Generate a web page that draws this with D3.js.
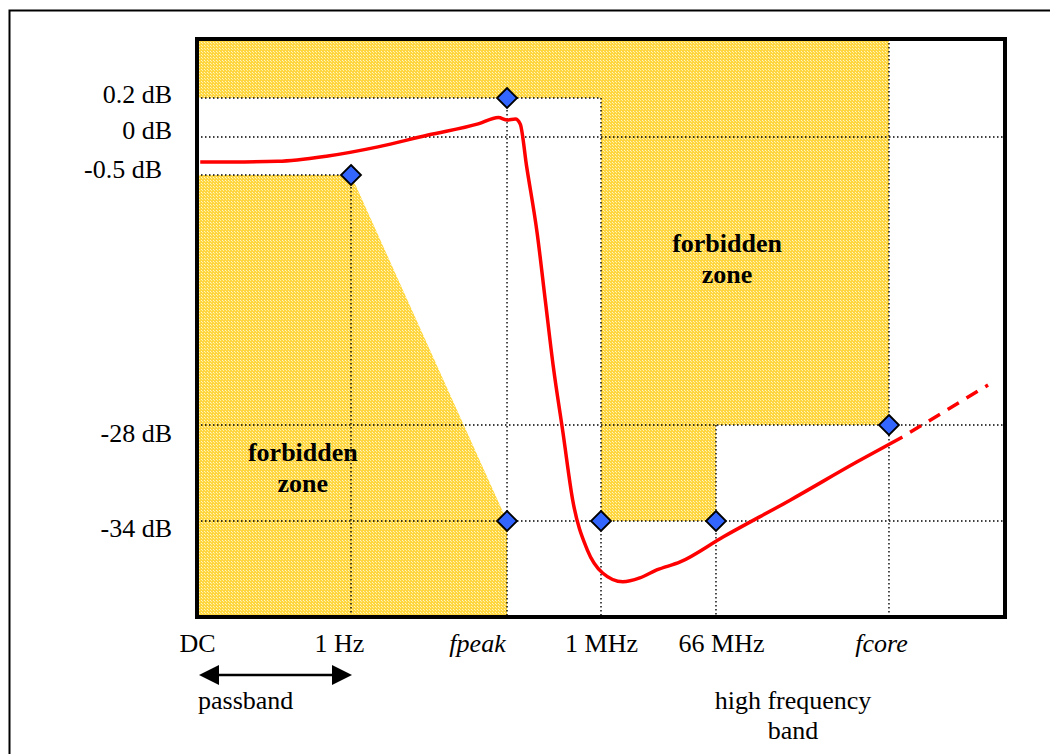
<!DOCTYPE html>
<html>
<head>
<meta charset="utf-8">
<script src="https://cdn.jsdelivr.net/npm/d3@7"></script>
<style>
  html, body { margin: 0; padding: 0; background: #fff; }
  svg { display: block; }
  text { font-family: "Liberation Serif", "Times New Roman", serif; fill: #000; }
</style>
</head>
<body>
<svg id="chart" width="1050" height="754"></svg>
<script>
// ---------- data (schematic units: x = relative frequency position, y = dB) ----------
const xTickValues = [0, 19.06, 38.37, 50, 64.23, 85.64];
const xTickLabels = ["DC", "1 Hz", "fpeak", "1 MHz", "66 MHz", "fcore"];
const xItalic     = [false, false, true, false, false, true];

const yTickValues = [0.2, 0, -0.5, -28, -34];
const yTickLabels = ["0.2 dB", "0 dB", "-0.5 dB", "-28 dB", "-34 dB"];

// response curve (solid part)
const curveX  = [0.4, 10.0, 16.2, 22.4, 28.6, 34.8, 37.3, 38.4, 39.4, 40.0, 40.8, 42.1, 43.1, 44.1, 45.3, 46.5, 48.3, 50.2, 52.7, 54.8, 56.9, 59.8, 65.1, 73.4, 81.7, 87.3];
const curveDb = [-0.33, -0.32, -0.25, -0.13, 0.01, 0.067, 0.10, 0.087, 0.092, 0.067, -0.39, -6.9, -14.25, -21.6, -28.5, -32.7, -35.8, -37.25, -37.8, -37.56, -37.06, -36.56, -35.0, -32.7, -30.3, -28.75];
// extrapolated (dashed) part
const extX  = [87.3, 97.9];
const extDb = [-28.75, -23.6];

// mask corner points (diamonds)
const markX  = [19.06, 38.37, 38.37, 50, 64.23, 85.64];
const markDb = [-0.5, 0.2, -34, -34, -34, -28];

// forbidden zones (polygons)
const zoneTop   = [[0, 0.5], [85.64, 0.5], [85.64, -28], [50, -28], [50, 0.2], [0, 0.2]];
const zoneLeft  = [[0, -0.5], [19.06, -0.5], [38.37, -34], [38.37, -40], [0, -40]];
const zoneMid   = [[50, -28], [64.23, -28], [64.23, -34], [50, -34]];

// dotted guide lines
const hGuides = [[0.2, 0, 50], [0, 0, 100], [-0.5, 0, 19.06], [-28, 0, 100], [-34, 0, 100]];
const vGuides = [[19.06, -0.5, -40], [38.37, 0.2, -40], [50, 0.2, -40], [64.23, -28, -40], [85.64, 0.5, -40]];

// ---------- scales ----------
const x = d3.scaleLinear().domain([0, 100]).range([197, 1005]);
const y = d3.scaleLinear()
  .domain([0.5, 0.2, 0, -0.5, -28, -34, -40])
  .range([39, 98, 137, 175, 425, 521, 617]);

const FS = 26;
const svg = d3.select("#chart");

// pattern for forbidden zones
const defs = svg.append("defs");
const pat = defs.append("pattern").attr("id", "hatch")
  .attr("patternUnits", "userSpaceOnUse").attr("width", 3).attr("height", 3);
pat.append("rect").attr("width", 3).attr("height", 3).attr("fill", "#FFD640");
pat.append("rect").attr("x", 0).attr("y", 0).attr("width", 1).attr("height", 1).attr("fill", "#FFF6C8");
pat.append("rect").attr("x", 1).attr("y", 1).attr("width", 1).attr("height", 1).attr("fill", "#FFEFA0");

// outer frame
svg.append("rect").attr("x", 9.5).attr("y", 10.5).attr("width", 1200).attr("height", 1000)
  .attr("fill", "none").attr("stroke", "#000").attr("stroke-width", 2);

// zones
const poly = pts => "M" + pts.map(p => x(p[0]) + "," + y(p[1])).join("L") + "Z";
svg.append("g").selectAll("path").data([zoneTop, zoneLeft, zoneMid]).join("path")
  .attr("d", poly).attr("fill", "url(#hatch)");

// guides
const g = svg.append("g").attr("stroke", "#000").attr("stroke-width", 1.4)
  .attr("stroke-dasharray", "1.5,2.5");
g.selectAll(".h").data(hGuides).join("line")
  .attr("x1", d => x(d[1])).attr("x2", d => x(d[2]))
  .attr("y1", d => y(d[0])).attr("y2", d => y(d[0]));
g.selectAll(".v").data(vGuides).join("line")
  .attr("x1", d => x(d[0])).attr("x2", d => x(d[0]))
  .attr("y1", d => y(d[1])).attr("y2", d => y(d[2]));

// curve
const line = d3.line().x(d => x(d[0])).y(d => y(d[1])).curve(d3.curveMonotoneX);
svg.append("path").datum(curveX.map((v, i) => [v, curveDb[i]]))
  .attr("d", line).attr("fill", "none").attr("stroke", "#FF0000")
  .attr("stroke-width", 3.5).attr("stroke-linejoin", "round");
svg.append("path").datum(extX.map((v, i) => [v, extDb[i]]))
  .attr("d", d3.line().x(d => x(d[0])).y(d => y(d[1])))
  .attr("fill", "none").attr("stroke", "#FF0000")
  .attr("stroke-width", 3.5).attr("stroke-dasharray", "13,9").attr("stroke-dashoffset", -9);

// diamonds
svg.append("g").selectAll("path").data(markX.map((v, i) => [v, markDb[i]])).join("path")
  .attr("transform", d => `translate(${x(d[0])},${y(d[1])})`)
  .attr("d", "M0,-10L10,0L0,10L-10,0Z")
  .attr("fill", "#3366FF").attr("stroke", "#000").attr("stroke-width", 1.8);

// plot border
svg.append("rect").attr("x", x(0)).attr("y", y(0.5))
  .attr("width", x(100) - x(0)).attr("height", y(-40) - y(0.5))
  .attr("fill", "none").attr("stroke", "#000").attr("stroke-width", 4);

// x axis
const xNudge = [0, -12, -30, 0, 5, -8];
const xAxis = svg.append("g").attr("transform", `translate(0,${y(-40)})`)
  .call(d3.axisBottom(x).tickValues(xTickValues).tickSize(0)
        .tickFormat((d, i) => xTickLabels[i]));
xAxis.select(".domain").remove();
xAxis.selectAll("text")
  .attr("y", 35).attr("dy", 0)
  .attr("dx", (d, i) => xNudge[i])
  .attr("font-size", FS)
  .attr("font-family", "Liberation Serif")
  .attr("font-style", (d, i) => xItalic[i] ? "italic" : "normal");

// y axis
const yNudgeX = [0, 0, -10, 0, 0];
const yNudgeY = [4, 1, 2, 16, 15];
const yAxis = svg.append("g").attr("transform", `translate(${x(0)},0)`)
  .call(d3.axisLeft(y).tickValues(yTickValues).tickSize(0)
        .tickFormat((d, i) => yTickLabels[i]));
yAxis.select(".domain").remove();
yAxis.selectAll("text")
  .attr("x", (d, i) => -25 + yNudgeX[i]).attr("dy", (d, i) => yNudgeY[i])
  .attr("font-size", FS).attr("font-family", "Liberation Serif");

// zone labels
const zoneLabelX  = [13.1, 65.6];
const zoneLabelDb = [-30.25, -8.97];
zoneLabelX.forEach((vx, i) => {
  const t = svg.append("text").attr("text-anchor", "middle")
    .attr("font-weight", "bold").attr("font-size", FS)
    .attr("x", x(vx)).attr("y", y(zoneLabelDb[i]));
  t.append("tspan").attr("x", x(vx)).text("forbidden");
  t.append("tspan").attr("x", x(vx)).attr("dy", 31).text("zone");
});

// passband arrow
const ay = 675;
const ax0 = x(0) + 2, ax1 = x(19.06) + 1;
svg.append("line").attr("x1", ax0 + 10).attr("x2", ax1 - 10).attr("y1", ay).attr("y2", ay)
  .attr("stroke", "#000").attr("stroke-width", 2.5);
svg.append("path").attr("d", `M${ax0},${ay}L${ax0 + 20},${ay - 10}L${ax0 + 20},${ay + 10}Z`).attr("fill", "#000");
svg.append("path").attr("d", `M${ax1},${ay}L${ax1 - 20},${ay - 10}L${ax1 - 20},${ay + 10}Z`).attr("fill", "#000");
svg.append("text").attr("x", x(0) + 1).attr("y", 709).attr("font-size", FS).text("passband");

// high frequency band
const hf = svg.append("text").attr("text-anchor", "middle").attr("font-size", FS)
  .attr("x", 793).attr("y", 709);
hf.append("tspan").attr("x", 793).text("high frequency");
hf.append("tspan").attr("x", 793).attr("dy", 30).text("band");
</script>
</body>
</html>
